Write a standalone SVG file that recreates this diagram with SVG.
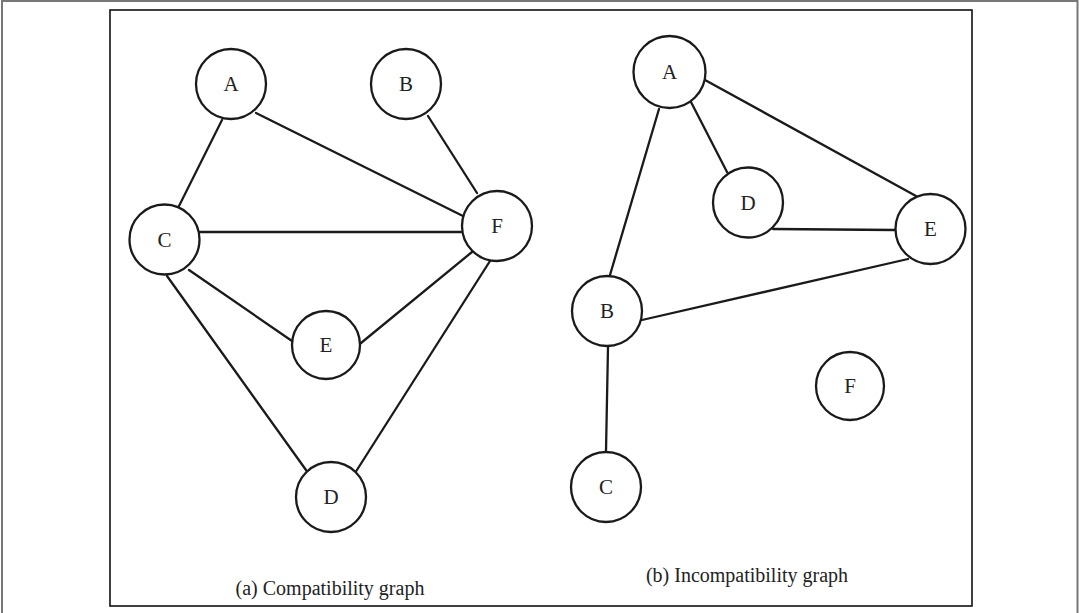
<svg xmlns="http://www.w3.org/2000/svg" width="1079" height="613" viewBox="0 0 1079 613">
  <style>
    .node circle { fill: #fff; stroke: #1a1a1a; stroke-width: 2.3; }
    .node text { font-family: "Liberation Serif", "Times New Roman", serif; font-size: 21px; fill: #222; text-anchor: middle; dominant-baseline: central; }
    .edges line { stroke: #1a1a1a; stroke-width: 2.3; stroke-linecap: round; }
    .caption { font-family: "Liberation Serif", "Times New Roman", serif; font-size: 20px; fill: #222; text-anchor: middle; }
  </style>
  <rect width="1079" height="613" fill="#fff"/>
  <!-- outer image edge -->
  <path d="M2,613 V1 H1077.5 V613" fill="none" stroke="#777" stroke-width="2"/>
  <!-- figure frame -->
  <rect x="110" y="10" width="862" height="596" fill="none" stroke="#111" stroke-width="1.6"/>

  <!-- (a) compatibility graph edges -->
  <g class="edges" id="edges-a">
    <line x1="222" y1="120" x2="179" y2="206"/>
    <line x1="256" y1="113" x2="463" y2="216"/>
    <line x1="428" y1="116" x2="477" y2="193"/>
    <line x1="200" y1="232" x2="461" y2="232"/>
    <line x1="189" y1="270" x2="292" y2="341"/>
    <line x1="361" y1="343" x2="472" y2="252"/>
    <line x1="167" y1="276" x2="306" y2="470"/>
    <line x1="355" y1="473" x2="490" y2="261"/>
  </g>

  <!-- (b) incompatibility graph edges -->
  <g class="edges" id="edges-b">
    <line x1="659" y1="109" x2="610" y2="275"/>
    <line x1="691" y1="102" x2="727" y2="172"/>
    <line x1="705" y1="80" x2="916" y2="196"/>
    <line x1="773" y1="229" x2="895" y2="230"/>
    <line x1="642" y1="320" x2="908" y2="259"/>
    <line x1="608" y1="347" x2="606" y2="451"/>
  </g>

  <!-- (a) nodes -->
  <g class="node" id="a-A"><circle cx="231" cy="84" r="35"/><text x="231" y="84">A</text></g>
  <g class="node" id="a-B"><circle cx="406" cy="84" r="35"/><text x="406" y="84">B</text></g>
  <g class="node" id="a-C"><circle cx="164.5" cy="239.5" r="35"/><text x="164.5" y="239.5">C</text></g>
  <g class="node" id="a-F"><circle cx="497" cy="226" r="35"/><text x="497" y="226">F</text></g>
  <g class="node" id="a-E"><circle cx="326" cy="345" r="34"/><text x="326" y="345">E</text></g>
  <g class="node" id="a-D"><circle cx="331" cy="497" r="35"/><text x="331" y="497">D</text></g>

  <!-- (b) nodes -->
  <g class="node" id="b-A"><circle cx="669.5" cy="72" r="36"/><text x="669.5" y="72">A</text></g>
  <g class="node" id="b-D"><circle cx="748" cy="202.5" r="35"/><text x="748" y="202.5">D</text></g>
  <g class="node" id="b-E"><circle cx="930.5" cy="229" r="35"/><text x="930.5" y="229">E</text></g>
  <g class="node" id="b-B"><circle cx="607" cy="311" r="35"/><text x="607" y="311">B</text></g>
  <g class="node" id="b-C"><circle cx="606" cy="487" r="35"/><text x="606" y="487">C</text></g>
  <g class="node" id="b-F"><circle cx="850" cy="386" r="34"/><text x="850" y="386">F</text></g>

  <text class="caption" x="330" y="595">(a) Compatibility graph</text>
  <text class="caption" x="747" y="582">(b) Incompatibility graph</text>
</svg>
